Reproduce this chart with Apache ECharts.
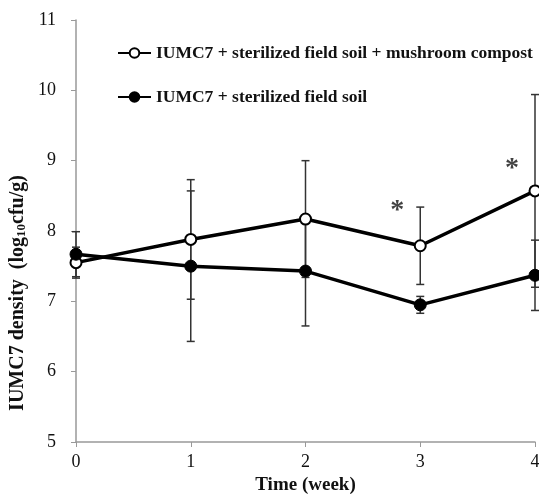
<!DOCTYPE html>
<html><head><meta charset="utf-8">
<script src="https://cdn.jsdelivr.net/npm/echarts@6/dist/echarts.min.js"></script>
<style>html,body{margin:0;padding:0;background:#fff;}#c{width:539px;height:495px;}</style>
</head><body><div id="c"></div>
<script>
const weeks = [0, 1, 2, 3, 4];
const compostMean = [7.55, 7.88, 8.17, 7.79, 8.57];
const compostErr = [0.22, 0.85, 0.83, 0.55, 1.37];
const soilMean = [7.67, 7.50, 7.43, 6.95, 7.37];
const soilErr = [0.32, 1.07, 0.78, 0.12, 0.5];
const starX = [2.8, 3.8];
const starY = [8.36, 8.96];
const yTicks = [5, 6, 7, 8, 9, 10, 11];
const seriesNames = ['IUMC7 + sterilized field soil + mushroom compost', 'IUMC7 + sterilized field soil'];

const FONT = 'Liberation Serif';
function pairs(xs, ys){ return xs.map((x,i)=>[x, ys[i]]); }
function errData(xs, m, e){ return xs.map((x,i)=>[x, m[i]-e[i], m[i]+e[i]]); }
function errRender(params, api){
  const x = api.value(0);
  const lo = api.coord([x, api.value(1)]);
  const hi = api.coord([x, api.value(2)]);
  const w = 4;
  const st = {stroke:'#333', lineWidth:1.5};
  return {type:'group', children:[
    {type:'line', shape:{x1:lo[0],y1:lo[1],x2:hi[0],y2:hi[1]}, style:st},
    {type:'line', shape:{x1:lo[0]-w,y1:lo[1],x2:lo[0]+w,y2:lo[1]}, style:st},
    {type:'line', shape:{x1:hi[0]-w,y1:hi[1],x2:hi[0]+w,y2:hi[1]}, style:st}
  ]};
}
const chart = echarts.init(document.getElementById('c'));
chart.setOption({
  animation:false,
  textStyle:{fontFamily:FONT},
  grid:{left:76, right:4, top:20, bottom:53, containLabel:false, outerBoundsMode:'none'},
  legend:{
    orient:'vertical', left:112, top:39, itemGap:26,
    itemWidth:33, itemHeight:12,
    textStyle:{fontFamily:FONT, fontSize:17.5, fontWeight:'bold', color:'#111'},
    data:seriesNames
  },
  xAxis:{
    type:'value', min:0, max:4, interval:1,
    name:'Time (week)', nameLocation:'middle', nameGap:33,
    nameTextStyle:{fontFamily:FONT, fontSize:19, fontWeight:'bold', color:'#111'},
    axisLine:{lineStyle:{color:'#999', width:1.5}},
    axisTick:{show:true, length:5, lineStyle:{color:'#999'}},
    axisLabel:{fontFamily:FONT, fontSize:18, color:'#111', margin:11},
    splitLine:{show:false}
  },
  yAxis:{
    type:'value', min:yTicks[0], max:yTicks[yTicks.length-1], interval:1,
    axisLine:{show:true, lineStyle:{color:'#999', width:1.5}},
    axisTick:{show:true, length:5, lineStyle:{color:'#999'}},
    axisLabel:{fontFamily:FONT, fontSize:18, color:'#111', margin:20},
    splitLine:{show:false}
  },
  graphic:[{
    type:'text', x:18, y:293, rotation:Math.PI/2,
    style:{
      text:'{b|IUMC7 density  (log}{s|10}{b|cfu/g)}',
      align:'center', verticalAlign:'middle',
      rich:{
        b:{fontFamily:FONT, fontSize:20, fontWeight:'bold', fill:'#111'},
        s:{fontFamily:FONT, fontSize:13, fontWeight:'bold', fill:'#111', verticalAlign:'bottom', padding:[7,0,0,0]}
      }
    }
  }],
  series:[
    {type:'custom', name:'errC', renderItem:errRender, data:errData(weeks, compostMean, compostErr), z:1, clip:false, encode:{x:0,y:[1,2]}},
    {type:'custom', name:'errS', renderItem:errRender, data:errData(weeks, soilMean, soilErr), z:1, clip:false, encode:{x:0,y:[1,2]}},
    {type:'line', name:seriesNames[0], data:pairs(weeks, compostMean), z:3,
      symbol:'circle', symbolSize:11, showSymbol:true,
      lineStyle:{color:'#000', width:3.5},
      itemStyle:{color:'#fff', borderColor:'#000', borderWidth:2}},
    {type:'line', name:seriesNames[1], data:pairs(weeks, soilMean), z:4,
      symbol:'circle', symbolSize:12, showSymbol:true,
      lineStyle:{color:'#000', width:3.5},
      itemStyle:{color:'#000', borderColor:'#000', borderWidth:1}},
    {type:'scatter', name:'stars', data:pairs(starX, starY), symbolSize:0, z:5,
      label:{show:true, formatter:'*', position:'inside', offset:[0,5], fontFamily:FONT, fontSize:28, fontWeight:'bold', color:'#111'}}
  ]
});
</script></body></html>
